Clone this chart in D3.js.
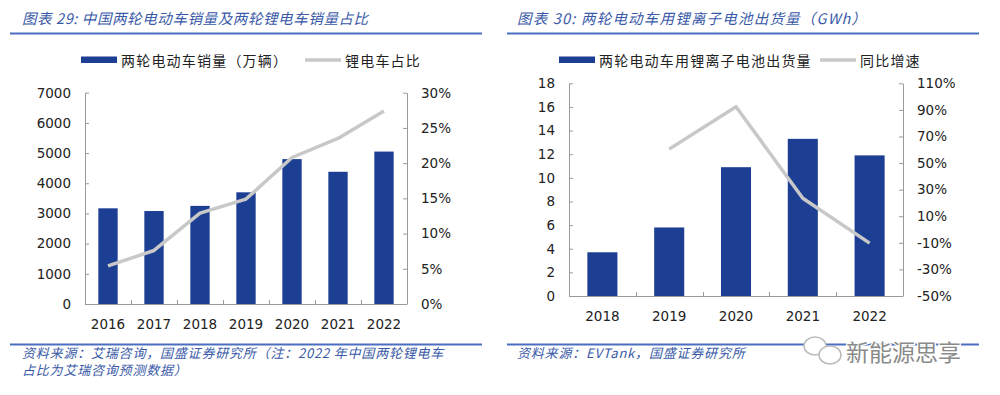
<!DOCTYPE html>
<html>
<head>
<meta charset="utf-8">
<script src="https://cdn.jsdelivr.net/npm/d3@7"></script>
<style>
  body { margin: 0; background: #fff; }
  svg { display: block; }
</style>
</head>
<body>
<svg id="chart" width="1000" height="395"></svg>
<script>
  // left chart: e-bike sales and lithium share
  const yearsA = ['2016', '2017', '2018', '2019', '2020', '2021', '2022']
  const salesA = [3170, 3080, 3250, 3700, 4800, 4380, 5050]
  const shareA = [5.4, 7.6, 12.9, 14.9, 20.8, 23.5, 27.4]
  const leftTicksA = [0, 1000, 2000, 3000, 4000, 5000, 6000, 7000]
  const rightTicksA = [0, 5, 10, 15, 20, 25, 30]

  // right chart: lithium battery shipments and yoy growth
  const yearsB = ['2018', '2019', '2020', '2021', '2022']
  const shipB = [3.7, 5.8, 10.9, 13.3, 11.9]
  const growthB = [null, 60.5, 92.4, 23.5, -10.2]
  const leftTicksB = [0, 2, 4, 6, 8, 10, 12, 14, 16, 18]
  const rightTicksB = [-50, -30, -10, 10, 30, 50, 70, 90, 110]

  const blue = '#1c3f94'
  const grey = '#c8c8c8'
  const titleBlue = '#3a5aa8'
  const ruleBlue = '#4a6fc0'
  const axisGrey = '#9a9a9a'
  const numFont = '"DejaVu Sans", Verdana, sans-serif'
  const cjkFont = '"Noto Sans CJK SC", sans-serif'

  const svg = d3.select('#chart')

  function drawPanel (cfg) {
    const g = svg.append('g')

    // title and rules
    g.append('text')
      .attr('x', cfg.titleX).attr('y', 24)
      .attr('font-family', cjkFont).attr('font-size', 14.5)
      .attr('font-style', 'italic').attr('fill', titleBlue)
      .attr('letter-spacing', cfg.titleSpace)
      .text(cfg.title)
    g.append('line')
      .attr('x1', cfg.ruleX0).attr('x2', cfg.ruleX1)
      .attr('y1', 33.5).attr('y2', 33.5)
      .attr('stroke', ruleBlue).attr('stroke-width', 2)
    g.append('line')
      .attr('x1', cfg.ruleX0).attr('x2', cfg.ruleX1)
      .attr('y1', 344.5).attr('y2', 344.5)
      .attr('stroke', ruleBlue).attr('stroke-width', 2)
    cfg.notes.forEach((t, i) => {
      g.append('text')
        .attr('x', cfg.titleX).attr('y', 358 + i * 17)
        .attr('font-family', cjkFont).attr('font-size', 13)
        .attr('font-style', 'italic').attr('fill', titleBlue)
        .attr('letter-spacing', 0.8)
        .text(t)
    })

    // legend
    const lg = g.append('g').attr('font-family', cjkFont).attr('font-size', 14).attr('fill', '#222')
    lg.append('rect')
      .attr('x', cfg.legBar).attr('y', 56.5).attr('width', 36).attr('height', 6.5)
      .attr('fill', blue)
    lg.append('text').attr('x', cfg.legBar + 40).attr('y', 65.5)
      .attr('letter-spacing', 1.2).text(cfg.barName)
    lg.append('line')
      .attr('x1', cfg.legLine).attr('x2', cfg.legLine + 36)
      .attr('y1', 60).attr('y2', 60)
      .attr('stroke', grey).attr('stroke-width', 3.5)
    lg.append('text').attr('x', cfg.legLine + 40).attr('y', 65.5)
      .attr('letter-spacing', 1.2).text(cfg.lineName)

    // scales
    const x = d3.scaleBand()
      .domain(cfg.years)
      .range([cfg.x0, cfg.x1])
      .paddingInner(cfg.pad)
      .paddingOuter(cfg.pad / 2)
    const y = d3.scaleLinear()
      .domain(d3.extent(cfg.leftTicks))
      .range([cfg.y1, cfg.y0])
    const y2 = d3.scaleLinear()
      .domain(d3.extent(cfg.rightTicks))
      .range([cfg.y1, cfg.y0])

    // bars
    g.append('g')
      .selectAll('rect')
      .data(cfg.years)
      .enter().append('rect')
        .attr('x', (d) => x(d))
        .attr('y', (d, i) => y(cfg.bars[i]))
        .attr('width', x.bandwidth())
        .attr('height', (d, i) => cfg.y1 - y(cfg.bars[i]))
        .attr('fill', blue)

    // axes
    const styleAxis = (sel) => {
      sel.selectAll('path, line').attr('stroke', axisGrey)
      sel.selectAll('text').attr('fill', '#222')
      sel.attr('font-family', numFont).attr('font-size', 13.5)
    }

    g.append('g')
      .attr('transform', 'translate(' + cfg.x0 + ',0)')
      .call(d3.axisLeft(y).tickValues(cfg.leftTicks).tickFormat(d3.format('d'))
        .tickSize(-4).tickSizeOuter(0).tickPadding(14))
      .call(styleAxis)

    g.append('g')
      .attr('transform', 'translate(' + cfg.x1 + ',0)')
      .call(d3.axisRight(y2).tickValues(cfg.rightTicks).tickFormat((d) => d + '%')
        .tickSize(-4).tickSizeOuter(0).tickPadding(14))
      .call(styleAxis)

    const xa = g.append('g')
      .attr('transform', 'translate(0,' + cfg.y1 + ')')
      .call(d3.axisBottom(x).tickSize(0).tickSizeOuter(0).tickPadding(cfg.xPad))
      .call(styleAxis)
    xa.select('.domain').remove()
    g.append('line')
      .attr('x1', cfg.x0).attr('x2', cfg.x1)
      .attr('y1', cfg.y1 + 0.5).attr('y2', cfg.y1 + 0.5)
      .attr('stroke', axisGrey)
    // boundary ticks between categories, pointing up
    const bounds = cfg.years.map((d) => x(d) - x.step() * cfg.pad / 2).concat([cfg.x1])
    g.append('g').selectAll('line')
      .data(bounds)
      .enter().append('line')
        .attr('x1', (d) => Math.round(d) + 0.5).attr('x2', (d) => Math.round(d) + 0.5)
        .attr('y1', cfg.y1).attr('y2', cfg.y1 - 4)
        .attr('stroke', axisGrey)

    // share / growth line
    const pts = cfg.years.map((d, i) => [x(d) + x.bandwidth() / 2, cfg.line[i]])
      .filter((p) => p[1] !== null)
    g.append('path')
      .datum(pts)
      .attr('d', d3.line().x((p) => p[0]).y((p) => y2(p[1])))
      .attr('fill', 'none')
      .attr('stroke', grey)
      .attr('stroke-width', 3.5)
      .attr('stroke-linejoin', 'round')
  }

  drawPanel({
    title: '图表 29:  中国两轮电动车销量及两轮锂电车销量占比',
    notes: ['资料来源：艾瑞咨询，国盛证券研究所（注：2022 年中国两轮锂电车',
            '占比为艾瑞咨询预测数据）'],
    titleX: 22, titleSpace: 0.6, ruleX0: 10, ruleX1: 482,
    legBar: 81, legLine: 305,
    barName: '两轮电动车销量（万辆）', lineName: '锂电车占比',
    years: yearsA, bars: salesA, line: shareA,
    leftTicks: leftTicksA, rightTicks: rightTicksA,
    x0: 85, x1: 407, y0: 92.7, y1: 304, pad: 0.58, xPad: 15
  })

  drawPanel({
    title: '图表 30:  两轮电动车用锂离子电池出货量（GWh）',
    notes: ['资料来源：EVTank，国盛证券研究所'],
    titleX: 517, titleSpace: 1.2, ruleX0: 507, ruleX1: 979,
    legBar: 559, legLine: 820,
    barName: '两轮电动车用锂离子电池出货量', lineName: '同比增速',
    years: yearsB, bars: shipB, line: growthB,
    leftTicks: leftTicksB, rightTicks: rightTicksB,
    x0: 569, x1: 903, y0: 83.3, y1: 296, pad: 0.55, xPad: 15
  })

  // watermark
  const wm = svg.append('g')
  wm.append('ellipse').attr('cx', 815).attr('cy', 346).attr('rx', 11).attr('ry', 9)
    .attr('fill', '#fff').attr('stroke', '#bbb').attr('stroke-width', 1.5)
  wm.append('ellipse').attr('cx', 830).attr('cy', 355).attr('rx', 11).attr('ry', 9)
    .attr('fill', '#fff').attr('stroke', '#bbb').attr('stroke-width', 1.5)
  wm.append('text')
    .attr('x', 846).attr('y', 361)
    .attr('font-family', cjkFont).attr('font-size', 23)
    .attr('fill', '#8a8a8a').attr('stroke', '#fff').attr('stroke-width', 2.5)
    .attr('paint-order', 'stroke')
    .text('新能源思享')
</script>
</body>
</html>
